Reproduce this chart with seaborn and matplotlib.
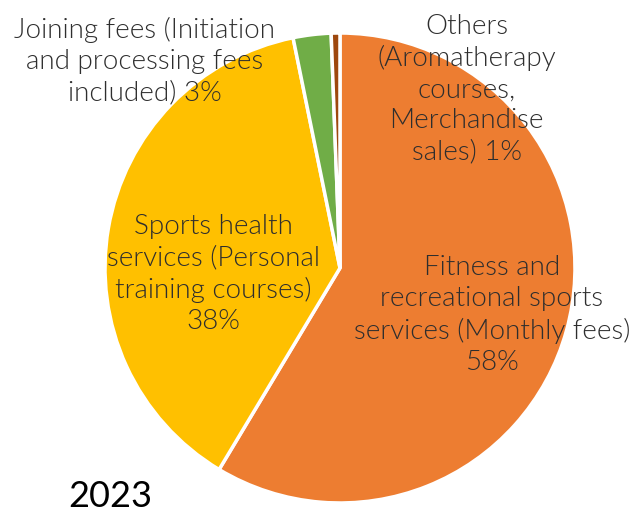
import matplotlib
matplotlib.use("Agg")
import matplotlib.pyplot as plt
import seaborn as sns

# revenue shares 2023
categories = [
    "Fitness and\nrecreational sports\nservices (Monthly fees)",
    "Sports health\nservices (Personal\ntraining courses)",
    "Joining fees (Initiation\nand processing fees\nincluded)",
    "Others\n(Aromatherapy\ncourses,\nMerchandise\nsales)",
]
shares = [58.6, 38.2, 2.6, 0.6]
pct_labels = ["58%", "38%", "3%", "1%"]
colors = ["#ED7D31", "#FFC000", "#70AD47", "#9E480E"]

sns.set_theme(style="white")
plt.rcParams["font.family"] = ["Lato", "DejaVu Sans"]

fig = plt.figure(figsize=(6.31, 5.13), dpi=100)
ax = fig.add_axes([0.1664, 0.0195, 0.7448, 0.9162])

ax.pie(
    shares,
    colors=colors,
    startangle=90,
    counterclock=False,
    radius=1.0,
    wedgeprops=dict(edgecolor="white", linewidth=2.5),
)
ax.set_xlim(-1, 1)
ax.set_ylim(-1, 1)
ax.set_aspect("equal")

# label anchors in pie coordinates
label_pos = [(0.647, -0.200), (-0.540, -0.025), (-0.830, 0.880), (0.540, 0.762)]
for i, (name, pct) in enumerate(zip(categories, pct_labels)):
    if i < 2:
        txt = name + "\n" + pct
    else:
        txt = name + " " + pct
    x, y = label_pos[i]
    ax.text(x, y, txt, ha="center", va="center", fontsize=20, fontweight=300,
            color="#2e2e2e", linespacing=1.3, clip_on=False)

fig.text(68 / 631, 6 / 513, "2023", ha="left", va="baseline", fontsize=26, color="black")

fig.savefig("out.png", dpi=100)
